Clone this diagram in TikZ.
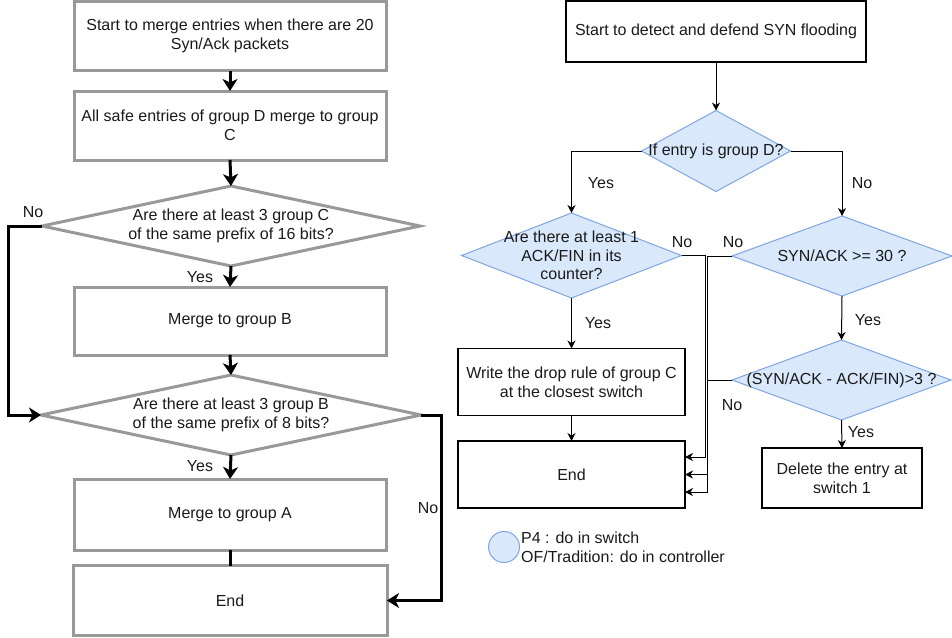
\documentclass[tikz,border=0pt]{standalone}
\usepackage{fontspec}
\setmainfont{Liberation Sans}
\usetikzlibrary{shapes.geometric,arrows.meta}
\definecolor{bfill}{HTML}{DAE8FC}
\definecolor{bline}{HTML}{7EA6E0}
\definecolor{gline}{HTML}{999999}
\definecolor{tcol}{HTML}{1A1A1A}
\begin{document}
\begin{tikzpicture}[x=1pt,y=-1pt,
  font=\fontsize{16}{18.7}\selectfont, text=tcol,
  gbox/.style={draw=gline, line width=3pt, rectangle, inner sep=0pt, outer sep=0pt, align=center},
  gdia/.style={draw=gline, line width=3pt, diamond, inner sep=0pt, outer sep=0pt},
  bbox/.style={draw=black, line width=1.2pt, rectangle, inner sep=0pt, outer sep=0pt, align=center},
  bdia/.style={draw=bline, fill=bfill, line width=1pt, diamond, inner sep=0pt, outer sep=0pt},
  garr/.style={line width=3pt, -{Stealth[length=12pt,width=15pt,inset=3.5pt]}},
  gline/.style={line width=3pt},
  barr/.style={line width=1pt, -{Stealth[length=8pt,width=8pt,inset=2.5pt]}},
  lbl/.style={inner sep=0pt},
  txt/.style={inner sep=0pt, align=center}]
\useasboundingbox (0,0) rectangle (952,637);

% ---------- left flow ----------
\node[gbox, minimum width=312pt, minimum height=69pt] (b1) at (230,36)
  {Start to merge entries when there are 20\\Syn/Ack packets};
\node[gbox, minimum width=312pt, minimum height=69pt] (b2) at (230,125.5)
  {All safe entries of group D merge to group\\C};
\node[gdia, minimum width=378pt, minimum height=80pt] (d1) at (231,226) {};
\node[txt] (d1t) at (d1) {Are there at least 3 group C\\of the same prefix of 16 bits?};
\node[gbox, minimum width=312pt, minimum height=68pt] (b3) at (230,321) {Merge to group B};
\node[gdia, minimum width=380pt, minimum height=80pt] (d2) at (231,415) {};
\node[txt] (d2t) at (d2) {Are there at least 3 group B\\of the same prefix of 8 bits?};
\node[gbox, minimum width=312pt, minimum height=71pt] (b4) at (230,514.5) {Merge to group A};
\node[gbox, minimum width=314pt, minimum height=70pt] (b5) at (230,600.5) {End};

\draw[garr] (b1.south) -- (b2.north);
\draw[garr] (b2.south) -- (d1.north);
\draw[garr] (d1.south) -- (b3.north);
\draw[garr] (b3.south) -- (d2.north);
\draw[garr] (d2.south) -- (b4.north);
\draw[gline] (b4.south) -- (b5.north);
\draw[garr] (d1.west) -- ++(-34,0) |- (d2.west);
\draw[garr] (d2.east) -- ++(20,0) |- (b5.east);

\node[lbl] (lno1) at (33,212) {No};
\node[lbl] (lyes1) at (200,277) {Yes};
\node[lbl] (lyes2) at (200,466) {Yes};
\node[lbl] (lno2) at (428,508) {No};

% ---------- right flow ----------
\node[bbox, minimum width=300pt, minimum height=61pt] (r1) at (716,31.5)
  {Start to detect and defend SYN flooding};
\node[bdia, minimum width=149pt, minimum height=81pt] (rd1) at (716,151) {};
\node[txt] (rd1t) at (rd1) {If entry is group D?};
\node[bdia, minimum width=220pt, minimum height=85pt] (rd2) at (571.5,255.5) {};
\node[txt] (rd2t) at (rd2) {Are there at least 1\\ACK/FIN in its\\counter?};
\node[bdia, minimum width=220pt, minimum height=80pt] (rd3) at (842,256) {};
\node[txt] (rd3t) at (rd3) {SYN/ACK >= 30 ?};
\node[bdia, minimum width=219pt, minimum height=80pt] (rd4) at (841.5,380) {};
\node[txt] (rd4t) at (rd4) {(SYN/ACK - ACK/FIN)>3 ?};
\node[bbox, minimum width=227pt, minimum height=67pt] (r2) at (571.5,382)
  {Write the drop rule of group C\\at the closest switch};
\node[bbox, minimum width=227pt, minimum height=67pt] (r3) at (571.5,474.5) {End};
\node[bbox, minimum width=160pt, minimum height=60pt] (r4) at (842,478)
  {Delete the entry at\\switch 1};

\draw[barr] (r1.south) -- (rd1.north);
\draw[barr] (rd1.west) -| (rd2.north);
\draw[barr] (rd1.east) -| (rd3.north);
\draw[barr] (rd2.south) -- (r2.north);
\draw[barr] (r2.south) -- (r3.north);
\draw[barr] (rd3.south) -- (rd4.north);
\draw[barr] (rd4.south) -- (r4.north);
\draw[barr] (rd2.east) -- ++(23.5,0) |- ([yshift=17.5pt]r3.east);
\draw[barr] (rd3.west) -- ++(-25,0) |- ([yshift=-17.5pt]r3.east);
\draw[barr] (rd4.west) -- ++(-25,0) |- (r3.east);

\node[lbl] (ryes1) at (601,183) {Yes};
\node[lbl] (rno1) at (862,183) {No};
\node[lbl] (rno2) at (682,242) {No};
\node[lbl] (rno3) at (733,242) {No};
\node[lbl] (ryes2) at (598,323) {Yes};
\node[lbl] (ryes3) at (868,320) {Yes};
\node[lbl] (rno4) at (732,405) {No};
\node[lbl] (ryes4) at (861,432) {Yes};

% ---------- legend ----------
\node[circle, draw=bline, fill=bfill, line width=1pt, minimum size=31pt, inner sep=0pt] (leg) at (504,547) {};
\node[anchor=west, align=left, inner sep=0pt] (legt) at (521,547)
  {P4 : do in switch\\OF/Tradition: do in controller};
\end{tikzpicture}
\end{document}
